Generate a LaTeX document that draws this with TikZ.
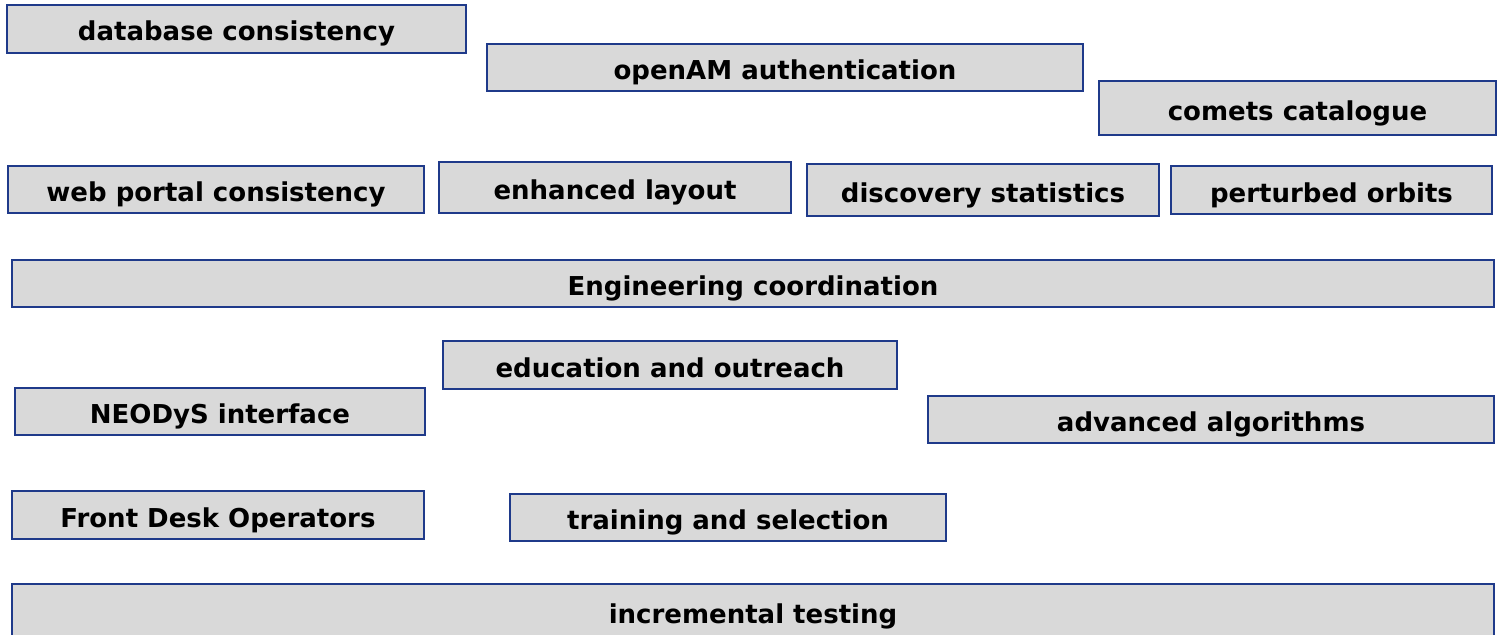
\documentclass[tikz,border=0pt]{standalone}
\usepackage{fontspec}
\setmainfont{DejaVu Sans}
\definecolor{boxfill}{HTML}{D9D9D9}
\definecolor{boxline}{HTML}{1F3A8A}
\begin{document}
\begin{tikzpicture}[x=1pt,y=-1pt,
  tag/.style={draw=boxline, line width=1.3pt, fill=boxfill, inner sep=0pt,
    font=\bfseries\fontsize{26}{28}\selectfont, text=black, anchor=center,
    text height=24pt, text depth=0pt}]
\clip (0,0) rectangle (1498,634);
\useasboundingbox (0,0) rectangle (1498,634);
\newcommand{\tagbox}[6]{%
  \node[tag, minimum width={#4-#2}, minimum height={#5-#3}] (#1) at ({(#2+#4)/2},{(#3+#5)/2}) {#6};}
\tagbox{db}{7}{5}{466}{53}{database consistency}
\tagbox{oam}{487}{44}{1083}{91}{openAM authentication}
\tagbox{com}{1099}{81}{1496}{135}{comets catalogue}
\tagbox{wpc}{8}{166}{424}{213}{web portal consistency}
\tagbox{enh}{439}{162}{791}{213}{enhanced layout}
\tagbox{dis}{807}{164}{1159}{216}{discovery statistics}
\tagbox{per}{1171}{166}{1492}{214}{perturbed orbits}
\tagbox{eng}{12}{260}{1494}{307}{Engineering coordination}
\tagbox{edu}{443}{341}{897}{389}{education and outreach}
\tagbox{neo}{15}{388}{425}{435}{NEODyS interface}
\tagbox{adv}{928}{396}{1494}{443}{advanced algorithms}
\tagbox{fdo}{12}{491}{424}{539}{Front Desk Operators}
\tagbox{trn}{510}{494}{946}{541}{training and selection}
\tagbox{inc}{12}{584}{1494}{638}{incremental testing}
\end{tikzpicture}
\end{document}
